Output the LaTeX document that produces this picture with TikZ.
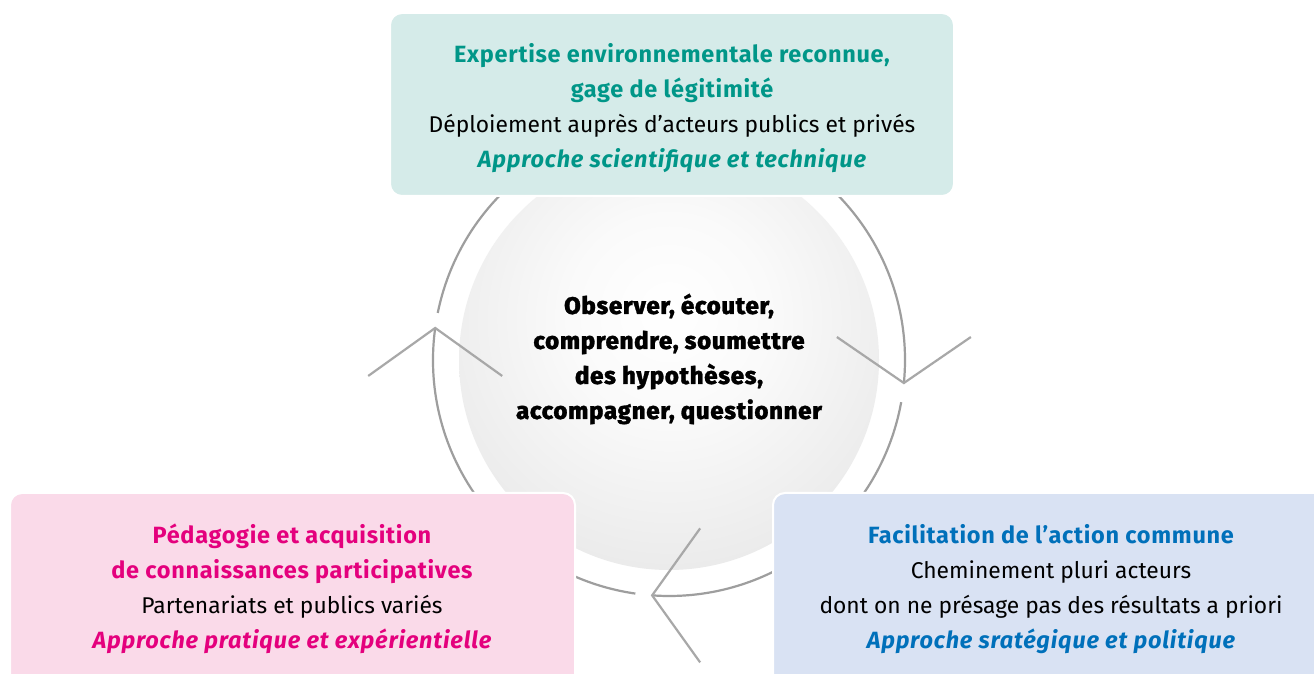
\documentclass[tikz,border=0pt]{standalone}
\usepackage{fontspec}
\setmainfont{Fira Sans}[BoldFeatures={LetterSpace=3}, BoldItalicFeatures={LetterSpace=3.5}]
\newfontfamily\heavyfont{Fira Sans}[UprightFont={* ExtraBold}, LetterSpace=3, FakeBold=1.2]
\usetikzlibrary{calc}

\definecolor{tealT}{RGB}{0,150,136}
\definecolor{tealF}{RGB}{213,235,233}
\definecolor{pinkT}{RGB}{228,0,125}
\definecolor{pinkF}{RGB}{250,218,233}
\definecolor{blueT}{RGB}{0,112,186}
\definecolor{blueF}{RGB}{217,226,243}
\definecolor{ringgray}{RGB}{158,158,158}

% soft radial shading for the central disc: near white centre, pale grey rim
\pgfdeclareradialshading{discshade}{\pgfpoint{0bp}{6bp}}{%
  color(0bp)=(white); color(12bp)=(white!98!black);
  color(50bp)=(white!85!black); color(100bp)=(white!85!black)}

\tikzset{
  ring/.style={draw=ringgray, line width=2.2pt},
  chevron/.style={draw=ringgray!90, line width=2.2pt, line join=miter},
  card/.style={rounded corners=12pt, draw=white, line width=2pt},
  cardtext/.style={align=center, font=\fontsize{22.8}{35}\selectfont, inner sep=0pt},
  strong/.style={font=\fontsize{23.5}{35}\selectfont\bfseries},
}
\newcommand\headline[1]{{\fontsize{23.5}{35}\selectfont\bfseries #1}}
\newcommand\approach[1]{{\fontsize{23.5}{35}\selectfont\bfseries\itshape #1}}

\begin{document}
\begin{tikzpicture}[x=1pt,y=1pt]
  \useasboundingbox (0,0) rectangle (1314,674);
  \fill[white] (0,0) rectangle (1314,674);

  \coordinate (C) at (669,314);

  % shaded central disc
  \shade[shading=discshade] (C) circle[radius=210];

  % cycle ring segments, each ending on the tip of a chevron
  \coordinate (tipR) at ($(C)+(-5.6:236)$);
  \coordinate (tipB) at ($(C)+(-94.1:236)$);
  \coordinate (tipL) at ($(C)+(172.2:236)$);

  \draw[ring] ($(C)+(168.5:236)$) arc[start angle=168.5, end angle=-5.6, radius=236];
  \draw[ring] ($(C)+(-10.3:236)$) arc[start angle=-10.3, end angle=-94.1, radius=236];
  \draw[ring] ($(C)+(261.8:236)$) arc[start angle=261.8, end angle=172.2, radius=236];

  % chevrons
  \draw[chevron] ($(tipR)+(-67,46)$) -- (tipR) -- ($(tipR)+(67,46)$);
  \draw[chevron] ($(tipB)+(48,67)$) -- (tipB) -- ($(tipB)+(48,-67)$);
  \draw[chevron] ($(tipL)+(-67,-48)$) -- (tipL) -- ($(tipL)+(67,-48)$);

  % central text
  \node[align=center, inner sep=0pt, font=\heavyfont\fontsize{24}{35}\selectfont]
    (core) at (669,315)
    {Observer, écouter,\\comprendre, soumettre\\des hypothèses,\\accompagner, questionner};

  % three cards
  \filldraw[card, fill=tealF] (390,478) rectangle (954,661);
  \filldraw[card, fill=pinkF] (10,-20) rectangle (575,181);
  \filldraw[card, fill=blueF] (773,-20) rectangle (1340,181);

  \node[cardtext] (top) at (672,566)
    {\textcolor{tealT}{\headline{Expertise environnementale reconnue,}}\\
     \textcolor{tealT}{\headline{gage de légitimité}}\\
     Déploiement auprès d’acteurs publics et privés\\
     \textcolor{tealT}{\approach{Approche scientifique et technique}}};

  \node[cardtext] (left) at (292,85)
    {\textcolor{pinkT}{\headline{Pédagogie et acquisition}}\\
     \textcolor{pinkT}{\headline{de connaissances participatives}}\\
     Partenariats et publics variés\\
     \textcolor{pinkT}{\approach{Approche pratique et expérientielle}}};

  \node[cardtext] (right) at (1051,85)
    {\textcolor{blueT}{\headline{Facilitation de l’action commune}}\\
     Cheminement pluri acteurs\\
     dont on ne présage pas des résultats a priori\\
     \textcolor{blueT}{\approach{Approche sratégique et politique}}};
\end{tikzpicture}
\end{document}
